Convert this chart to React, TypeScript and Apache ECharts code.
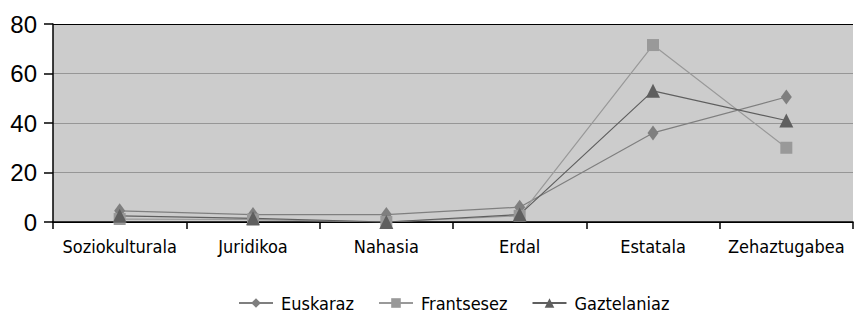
import React, { useEffect, useRef } from "react";
import * as echarts from "echarts";

const categories = ["Soziokulturala", "Juridikoa", "Nahasia", "Erdal", "Estatala", "Zehaztugabea"];
const seriesNames = ["Euskaraz", "Frantsesez", "Gaztelaniaz"];
const euskaraz = [4.5, 3, 3, 6, 36, 50.5];
const frantsesez = [1.2, 1, 0, 2.5, 71.5, 30];
const gaztelaniaz = [2.5, 1.5, 0, 3, 53, 41];
const yTicks = [0, 20, 40, 60, 80];

const narrow = "'DejaVu Sans Condensed', 'Liberation Sans', sans-serif";

export default function App() {
  const ref = useRef<HTMLDivElement>(null);
  useEffect(() => {
    const chart = echarts.init(ref.current!, null, { renderer: "svg" });
    chart.setOption({
      animation: false,
      backgroundColor: "#ffffff",
      grid: {
        left: 53,
        right: 1,
        top: 24,
        bottom: 90,
        show: true,
        backgroundColor: "#cccccc",
        borderWidth: 0,
      },
      legend: {
        left: 238,
        top: 294,
        padding: 0,
        itemWidth: 34,
        itemHeight: 12,
        itemGap: 24,
        data: seriesNames,
        textStyle: { fontFamily: narrow, fontSize: 18, color: "#000", padding: [0, 0, 0, 3] },
      },
      xAxis: {
        type: "category",
        data: categories,
        boundaryGap: true,
        axisLine: { show: true, lineStyle: { color: "#000", width: 1.5 } },
        axisTick: { show: true, length: 7, lineStyle: { color: "#000", width: 1.5 } },
        axisLabel: { fontFamily: narrow, fontSize: 18, color: "#000", margin: 15, interval: 0 },
        splitLine: { show: false },
      },
      yAxis: {
        type: "value",
        min: yTicks[0],
        max: yTicks[yTicks.length - 1],
        interval: 20,
        axisLine: { show: true, lineStyle: { color: "#000", width: 1.5 } },
        axisTick: { show: true, length: 9, lineStyle: { color: "#000", width: 1.5 } },
        axisLabel: { fontFamily: "'Liberation Sans', Arial, sans-serif", fontSize: 24, color: "#000", margin: 16 },
        splitLine: { show: true, lineStyle: { color: ["#000", "#969696", "#969696", "#969696", "#000"], width: 1.2 } },
      },
      series: [
        {
          name: seriesNames[0],
          type: "line",
          data: euskaraz,
          symbol: "diamond",
          symbolSize: [11, 15],
          itemStyle: { color: "#7f7f7f" },
          lineStyle: { color: "#7f7f7f", width: 1.2 },
        },
        {
          name: seriesNames[1],
          type: "line",
          data: frantsesez,
          symbol: "rect",
          symbolSize: 12,
          itemStyle: { color: "#999999" },
          lineStyle: { color: "#999999", width: 1.2 },
        },
        {
          name: seriesNames[2],
          type: "line",
          data: gaztelaniaz,
          symbol: "triangle",
          symbolSize: [14, 14],
          itemStyle: { color: "#5f5f5f" },
          lineStyle: { color: "#5f5f5f", width: 1.2 },
        },
      ],
    });
    return () => chart.dispose();
  }, []);
  return <div ref={ref} style={{ position: "fixed", left: 0, top: 0, width: 854, height: 312 }} />;
}
